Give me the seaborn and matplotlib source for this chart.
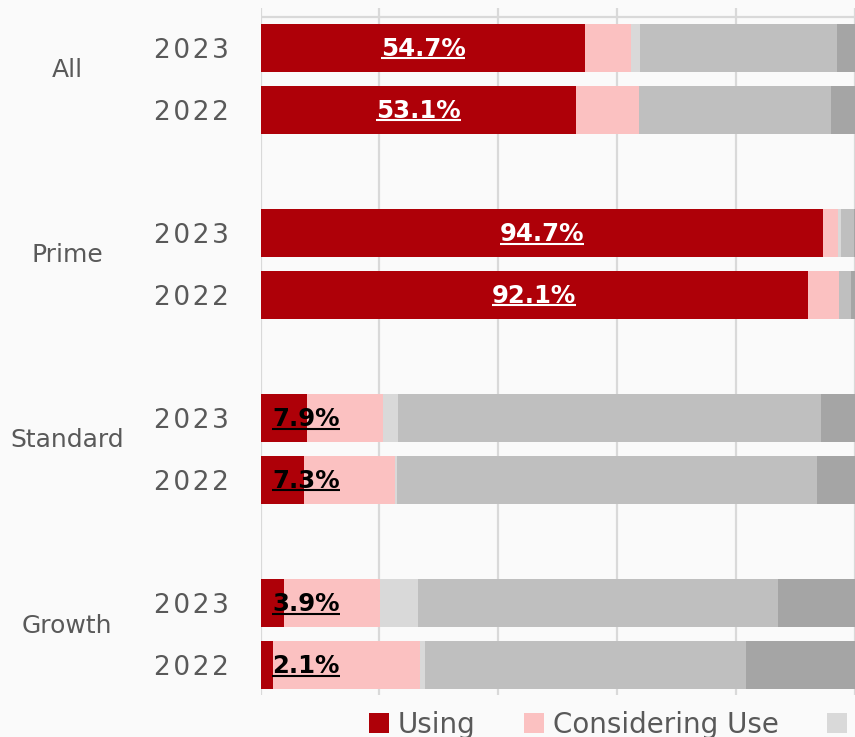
import numpy as np
import pandas as pd
import matplotlib
matplotlib.use("Agg")
import matplotlib.pyplot as plt
import seaborn as sns
from matplotlib.patches import Patch
from matplotlib.transforms import blended_transform_factory

# ---------------- data ----------------
markets = ["All", "Prime", "Standard", "Growth"]
years = ["2023", "2022"]
using = [54.7, 53.1, 94.7, 92.1, 7.9, 7.3, 3.9, 2.1]
considering = [7.7, 10.6, 2.5, 5.3, 12.8, 15.3, 16.2, 24.8]
interested = [1.5, 0.0, 0.5, 0.0, 2.4, 0.4, 6.4, 0.8]
not_considering = [33.1, 32.4, 2.2, 2.0, 71.2, 70.7, 60.7, 54.0]
unknown = [3.0, 3.9, 0.1, 0.6, 5.7, 6.3, 12.8, 18.3]
segment_names = ["Using", "Considering Use", "Interested", "Not Considering", "Unknown"]
segment_colors = ["#AE0008", "#FBC1C1", "#D9D9D9", "#BFBFBF", "#A5A5A5"]
x_ticks = [0, 20, 40, 60, 80, 100]

BG = "#FAFAFA"
GRID = "#D9D9D9"
TXT = "#595959"

sns.set_theme(style="white")
plt.rcParams["font.family"] = ["DejaVu Sans"]

fig = plt.figure(figsize=(8.55, 7.37), dpi=100, facecolor=BG)
ax = fig.add_axes([260.5 / 855, 1 - 695 / 737, (854.5 - 260.5) / 855, (695 - 8) / 737])
ax.set_facecolor(BG)

positions = []
for g in range(len(markets)):
    positions += [3 * g, 3 * g + 1]

df = pd.DataFrame({
    "pos": positions,
    "market": np.repeat(markets, len(years)),
    "year": years * len(markets),
})
segs = np.array([using, considering, interested, not_considering, unknown])
cum = np.cumsum(segs, axis=0)

for i in reversed(range(len(segment_names))):
    df["end"] = cum[i]
    sns.barplot(data=df, x="end", y="pos", orient="y", native_scale=True,
                width=0.78, color=segment_colors[i], saturation=1,
                linewidth=0, errorbar=None, ax=ax, zorder=2)

ax.set_xlim(0, 100)
ax.set_ylim(10.486, -0.648)
ax.set_xticks(x_ticks)
ax.xaxis.grid(True, color=GRID, lw=1.6)
ax.yaxis.grid(False)
ax.set_axisbelow(True)
ax.axhline(-0.5, color=GRID, lw=1.6, zorder=1)
ax.tick_params(axis="x", length=0, labelbottom=False)

def spaced(s):
    return "\u200a".join(s)

ax.set_yticks(positions)
ax.set_yticklabels([spaced(y) for y in df["year"]])
ax.tick_params(axis="y", length=0, pad=23, labelsize=19, labelcolor=TXT)
for sp in ax.spines.values():
    sp.set_visible(False)
ax.set_xlabel("")
ax.set_ylabel("")

# market labels
trans = blended_transform_factory(fig.transFigure, ax.transData)
for g, m in enumerate(markets):
    ax.text(67 / 855, 3 * g + 0.36, m, transform=trans, ha="center", va="center",
            fontsize=18, color=TXT)

# value labels (underlined)
fig.canvas.draw()
renderer = fig.canvas.get_renderer()
inv = ax.transData.inverted()
for p, v in zip(positions, using):
    if v >= 30:
        x, ha, col = v / 2, "center", "white"
    else:
        x, ha, col = 2.0, "left", "black"
    base = p + 0.13
    t = ax.text(x, base, f"{v:.1f}%", ha=ha, va="baseline", fontsize=17.6,
                fontweight="bold", color=col, zorder=5)
    bb = t.get_window_extent(renderer)
    x0 = inv.transform((bb.x0, 0))[0]
    x1 = inv.transform((bb.x1, 0))[0]
    ax.plot([x0, x1], [base + 0.04, base + 0.04], color=col, lw=1.5,
            zorder=5, solid_capstyle="butt")

# legend
handles = [Patch(facecolor=c, edgecolor="none", label=n)
           for n, c in zip(segment_names, segment_colors)]
fig.legend(handles=handles, loc="center left", bbox_to_anchor=(369 / 855, 1 - 725 / 737),
           ncol=len(handles), frameon=False, fontsize=20, labelcolor=TXT,
           handlelength=0.72, handleheight=0.72, handletextpad=0.32,
           columnspacing=1.73, borderpad=0, borderaxespad=0)

fig.savefig("out.png", dpi=100, facecolor=BG)
